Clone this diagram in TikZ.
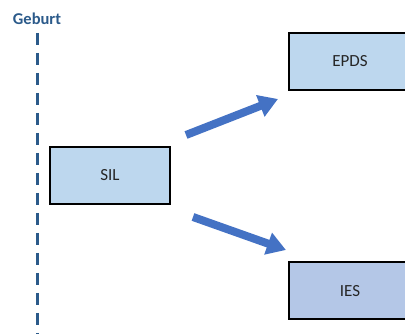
\documentclass[tikz,border=0pt]{standalone}
\usepackage{fontspec}
\setmainfont{Carlito}
\usetikzlibrary{arrows.meta}
\definecolor{timeline}{HTML}{2B5A8A}
\definecolor{boxfill}{HTML}{BDD7EE}
\definecolor{boxfillb}{HTML}{B4C7E7}
\definecolor{arrowblue}{HTML}{4472C4}
\tikzset{
  measure/.style={draw=black, line width=2pt, minimum width=120pt, minimum height=57pt,
    inner sep=0pt, font=\fontsize{17}{20}\selectfont, text=black!85},
  flow/.style={arrowblue, line width=8pt, -{Triangle[length=19pt,width=22pt]}},
  timeaxis/.style={timeline, line width=3pt, dash pattern=on 12pt off 8pt},
}
\begin{document}
\begin{tikzpicture}[x=1pt,y=-1pt]
  \useasboundingbox (0,0) rectangle (405,334);
  % time axis
  \node[font=\bfseries\fontsize{16.5}{19}\selectfont, text=timeline] (geburt) at (37,19) {Geburt};
  \coordinate (axisTop) at (37,33);
  \coordinate (axisEnd) at (37,340);
  \draw[timeaxis] (axisTop) -- (axisEnd);
  % measurement boxes
  \node[measure, fill=boxfill] (sil) at (110,175.5) {SIL};
  \node[measure, fill=boxfill, minimum width=122pt] (epds) at (350,61.5) {EPDS};
  \node[measure, fill=boxfillb, minimum width=122pt] (ies) at (350,291) {IES};
  % arrows
  \coordinate (a1s) at (186,135);
  \coordinate (a1e) at (278,99);
  \coordinate (a2s) at (193,217);
  \coordinate (a2e) at (286,250);
  \draw[flow] (a1s) -- (a1e);
  \draw[flow] (a2s) -- (a2e);
\end{tikzpicture}
\end{document}
